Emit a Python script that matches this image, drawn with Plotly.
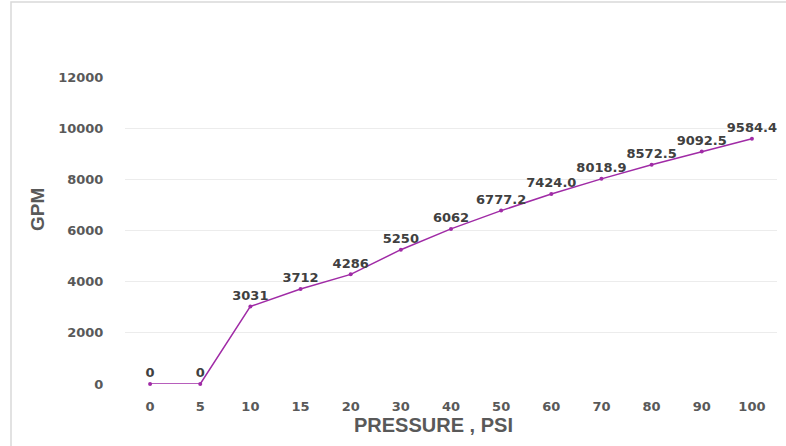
import plotly.graph_objects as go

pressure = ["0", "5", "10", "15", "20", "30", "40", "50", "60", "70", "80", "90", "100"]
gpm = [0, 0, 3031, 3712, 4286, 5250, 6062, 6777.2, 7424.0, 8018.9, 8572.5, 9092.5, 9584.4]
labels = ["0", "0", "3031", "3712", "4286", "5250", "6062", "6777.2", "7424.0", "8018.9", "8572.5", "9092.5", "9584.4"]
y_ticks = [0, 2000, 4000, 6000, 8000, 10000, 12000]
y_ticktext = ["0", "2000", "4000", "6000", "8000", "10000", "12000"]

W, H = 786, 446
L, R, T, B = 125, 9, 77, 62
pw, ph = W - L - R, H - T - B

fig = go.Figure()
fig.add_trace(go.Scatter(
    x=pressure, y=gpm, mode="lines+markers+text",
    line=dict(color="#a02ba6", width=1.5),
    marker=dict(color="#a02ba6", size=4),
    text=labels, textposition="top center",
    textfont=dict(family="DejaVu Sans", size=13, color="#404040", weight="bold"),
    cliponaxis=False, showlegend=False, hoverinfo="skip",
))

fig.update_layout(
    width=W, height=H,
    margin=dict(l=L, r=R, t=T, b=B),
    paper_bgcolor="white", plot_bgcolor="white",
    font=dict(family="Liberation Sans"),
    xaxis=dict(
        type="category", range=[-0.5, 12.5],
        showgrid=False, zeroline=False, showline=False,
        ticks="outside", ticklen=10, tickcolor="rgba(0,0,0,0)",
        tickfont=dict(family="DejaVu Sans", size=13, color="#595959", weight="bold"),
    ),
    yaxis=dict(
        range=[0, 12000], tickvals=y_ticks, ticktext=y_ticktext,
        showgrid=True, gridcolor="#ececec", gridwidth=1,
        zeroline=False, showline=False,
        ticks="outside", ticklen=18, tickcolor="rgba(0,0,0,0)",
        tickfont=dict(family="DejaVu Sans", size=13, color="#595959", weight="bold"),
    ),
    annotations=[
        dict(text="PRESSURE , PSI", xref="paper", yref="paper",
             x=(433 - L) / pw, y=-(425 - (T + ph)) / ph, showarrow=False,
             xanchor="center", yanchor="middle",
             font=dict(family="Liberation Sans", size=20, color="#595959", weight="bold")),
        dict(text="GPM", xref="paper", yref="paper",
             x=(37 - L) / pw, y=(T + ph - 210) / ph, showarrow=False, textangle=-90,
             xanchor="center", yanchor="middle",
             font=dict(family="Liberation Sans", size=19, color="#595959", weight="bold")),
    ],
    shapes=[
        dict(type="rect", xref="paper", yref="paper",
             x0=(11 - L) / pw, x1=(W + 20 - L) / pw,
             y0=(T + ph - (H + 20)) / ph, y1=(T + ph - 2) / ph,
             line=dict(color="#d9d9d9", width=1.5), fillcolor="rgba(0,0,0,0)", layer="below"),
    ],
)

fig.write_html("out.html", config={"displayModeBar": False},
               post_script="document.body.style.margin='0';")
